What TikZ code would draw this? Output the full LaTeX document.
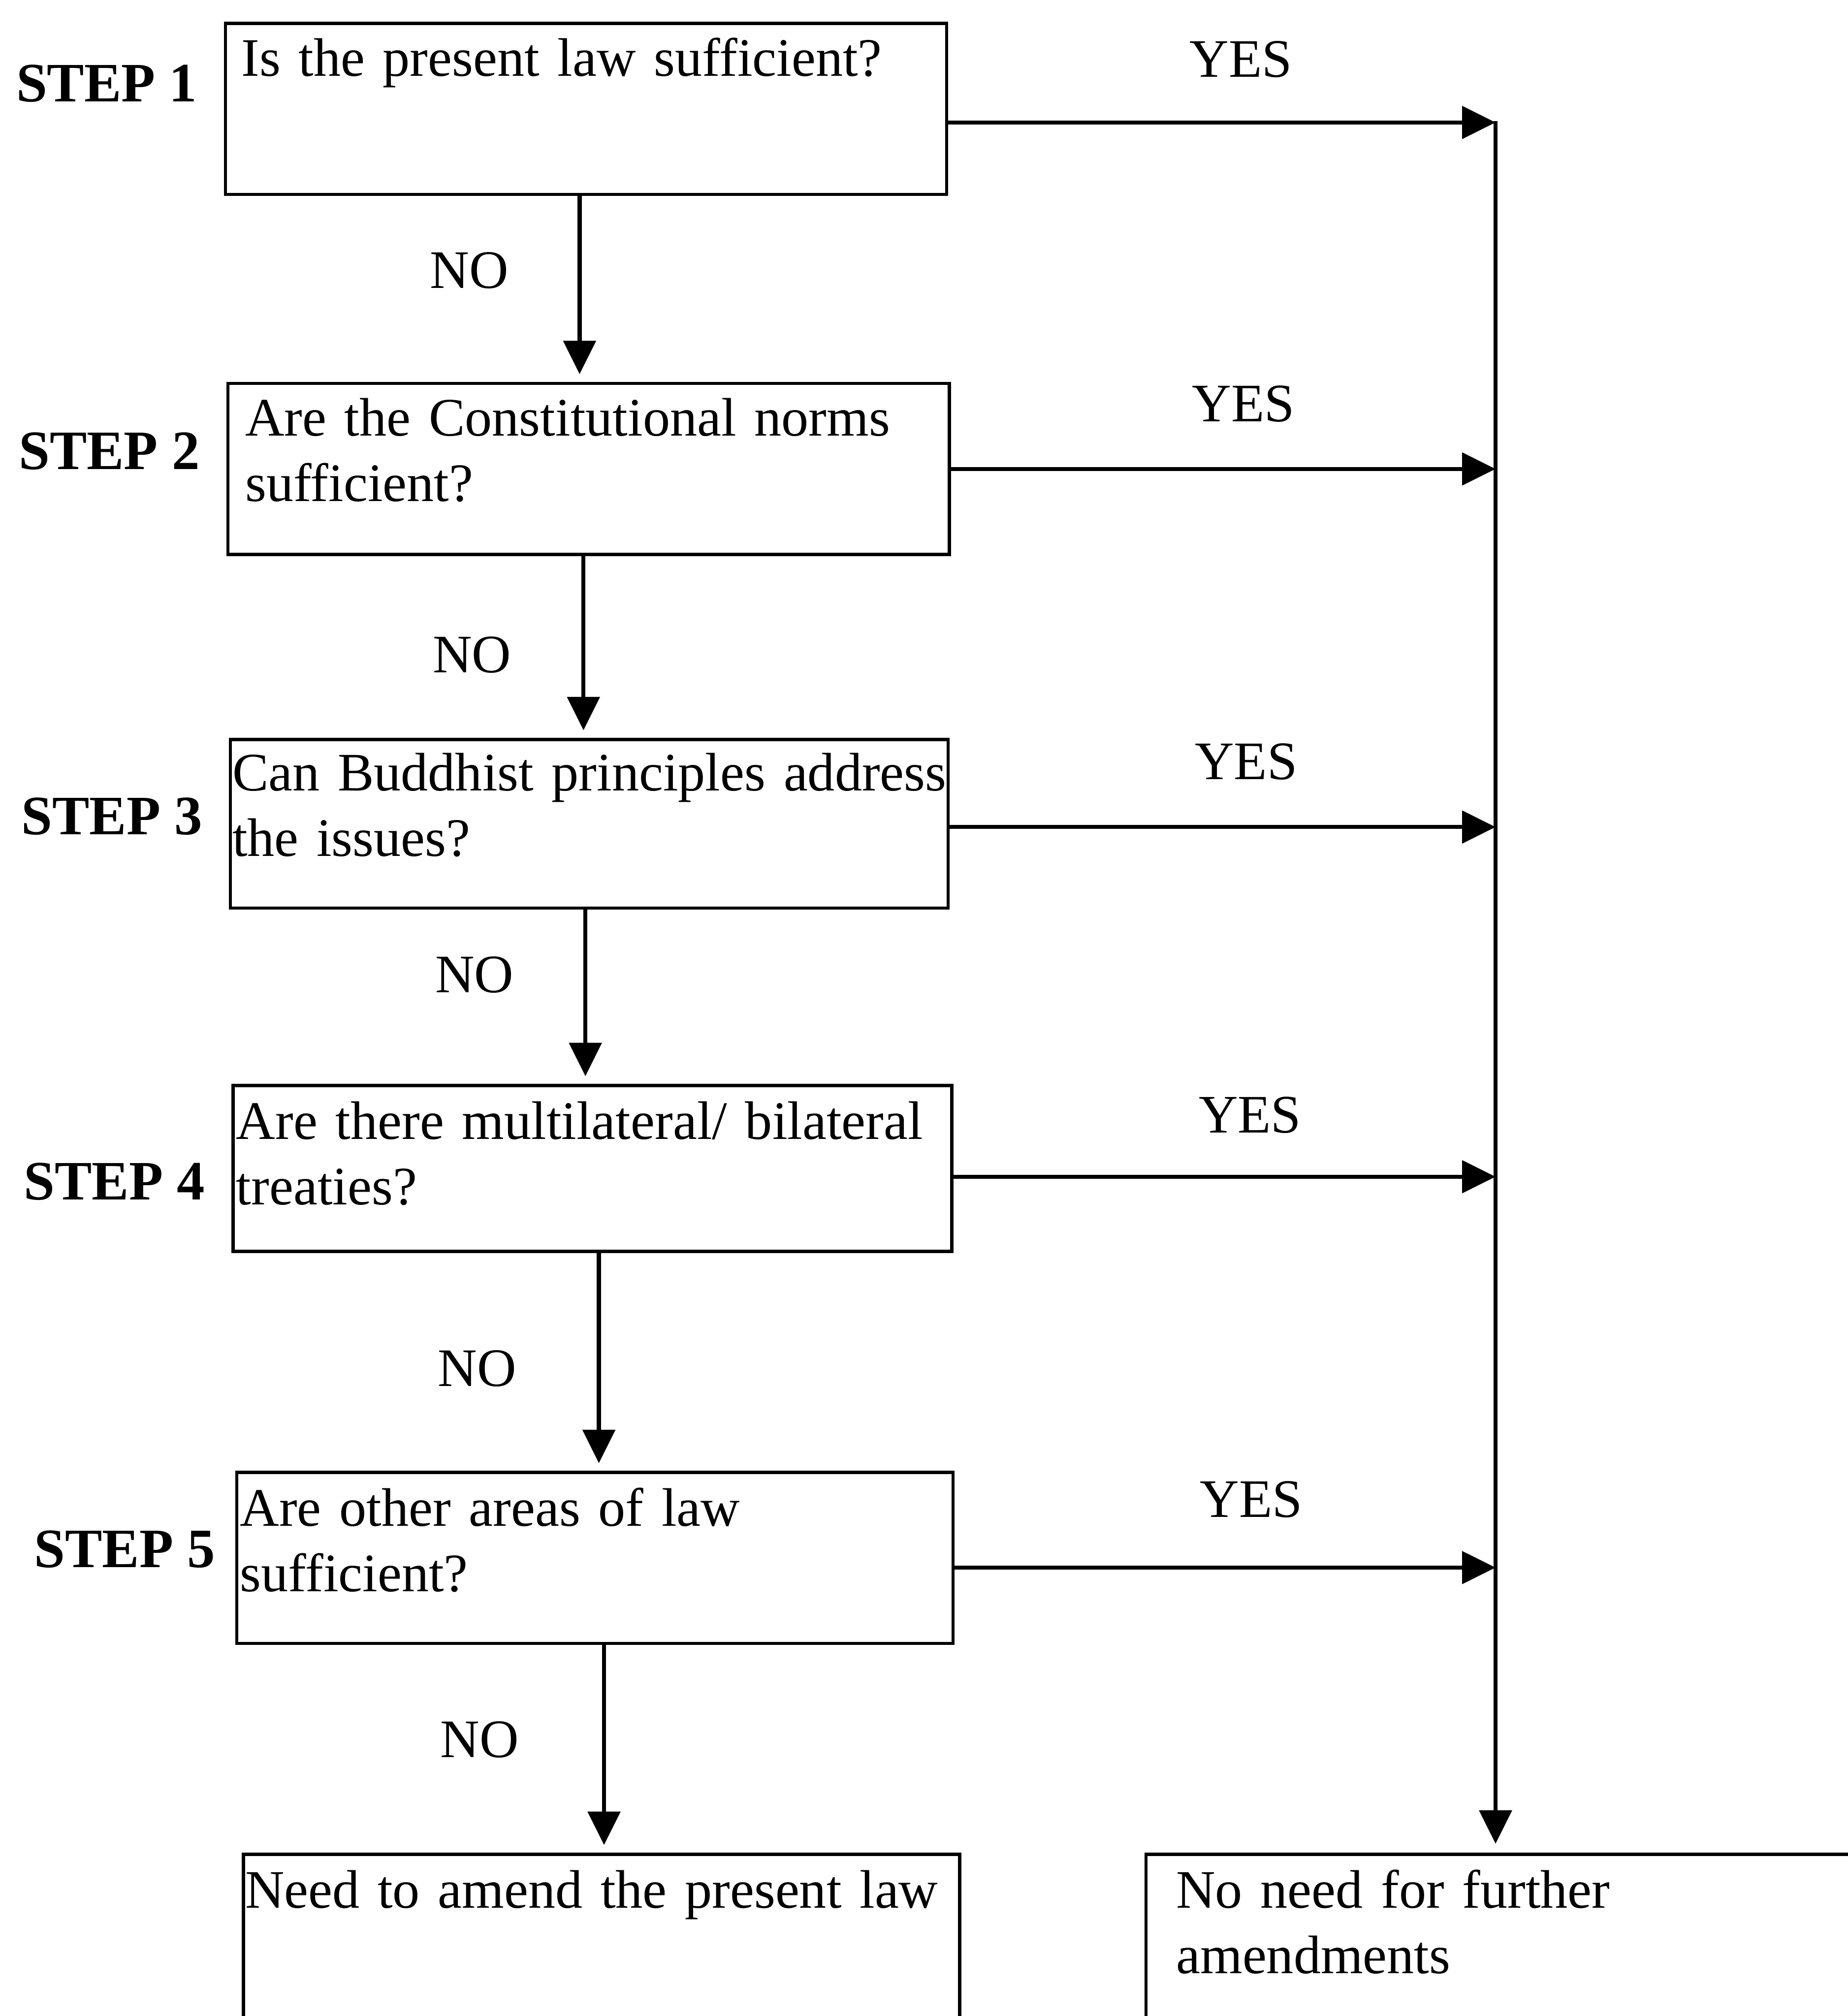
\documentclass[tikz,border=0pt]{standalone}
\usepackage{fontspec}
\setmainfont{Liberation Serif}
\usetikzlibrary{arrows.meta}

\begin{document}
\begin{tikzpicture}[x=.1mm,y=-.1mm,font=\fontsize{12}{14.5}\selectfont,>={Triangle[length=2.6mm,width=2.5mm]},
 box/.style={draw,line width=.7pt,anchor=north west,inner sep=0pt},
 qtext/.style={anchor=base west,inner sep=0pt,text width=7cm,align=left},
 steplab/.style={anchor=base west,inner sep=0pt,font=\fontsize{12.3}{14.5}\selectfont\bfseries},
 answer/.style={anchor=base,inner sep=0pt},
 arr/.style={->,line width=.9pt}]
 \useasboundingbox (0,0) rectangle (1437,1568);
 \clip (0,0) rectangle (1437,1568);
 \node[box,minimum width=5.61cm,minimum height=1.33cm] (step1) at (174,17) {};
 \node[box,minimum width=5.61cm,minimum height=1.33cm] (step2) at (176,297) {};
 \node[box,minimum width=5.58cm,minimum height=1.31cm] (step3) at (178,574) {};
 \node[box,minimum width=5.59cm,minimum height=1.29cm] (step4) at (180,843) {};
 \node[box,minimum width=5.57cm,minimum height=1.33cm] (step5) at (183,1144) {};
 \node[box,minimum width=5.57cm,minimum height=1.6cm] (amend) at (188,1441) {};
 \node[box,minimum width=6.5cm,minimum height=1.6cm] (noneed) at (890,1441) {};
 \node[qtext] (q1) at (187,59) {Is the present law sufficient?};
 \node[qtext] (q2) at (190,339) {Are the Constitutional norms\\sufficient?};
 \node[qtext] (q3) at (180,615) {Can Buddhist principles address\\the issues?};
 \node[qtext] (q4) at (183,886) {Are there multilateral/ bilateral\\treaties?};
 \node[qtext] (q5) at (186,1187) {Are other areas of law\\sufficient?};
 \node[qtext] (q6) at (190,1484) {Need to amend the present law};
 \node[qtext] (q7) at (914,1484) {No need for further\\amendments};
 \foreach \n/\x/\y in {1/12/79,2/14/365,3/16/649,4/18/933,5/26/1219}{
  \node[steplab] (lab\n) at (\x,\y) {STEP \n};
 }
 \foreach \n/\x/\y in {1/965/60,2/967/328,3/969/606,4/972/881,5/973/1180}{
  \node[answer] (yes\n) at (\x,\y) {YES};
 }
 \foreach \n/\x/\y in {1/365/224,2/367/523,3/369/772,4/371/1078,5/373/1367}{
  \node[answer] (no\n) at (\x,\y) {NO};
 }
 \coordinate (bus) at (1163,94);
 \foreach \n/\d in {1/-1.05mm,2/0mm,3/-.25mm,4/-.65mm,5/-.75mm}{
  \draw[arr] ([yshift=\d]step\n.east) -- ([yshift=\d]step\n.east -| bus);
 }
 \draw[arr,shorten >=.7mm] (bus) -- (bus |- noneed.north);
 \foreach \a/\b/\s in {step1/step2/-.5mm,step2/step3/-.4mm,step3/step4/-.3mm,step4/step5/.5mm,step5/amend/.7mm}{
  \draw[arr,shorten >=.6mm] ([xshift=\s]\a.south) -- ([xshift=\s]\a.south |- \b.north);
 }
\end{tikzpicture}
\end{document}
